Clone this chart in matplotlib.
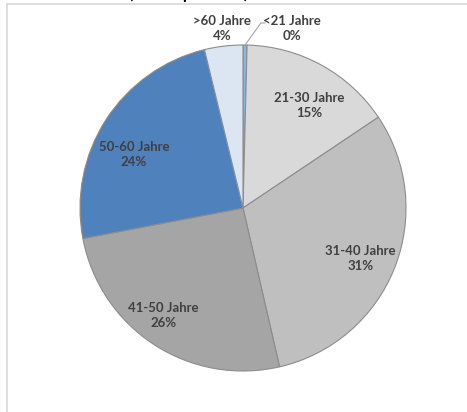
import matplotlib.pyplot as plt
from matplotlib.lines import Line2D
import numpy as np

plt.rcParams['font.family'] = ['Lato', 'DejaVu Sans']

# age groups, share of staff in percent (clockwise from 12 o'clock)
groups = ['<21 Jahre', '21-30 Jahre', '31-40 Jahre', '41-50 Jahre', '50-60 Jahre', '>60 Jahre']
shares = [0.4, 15.2, 30.8, 25.6, 24.2, 3.8]
colors = ['#8DB3E2', '#D9D9D9', '#BFBFBF', '#A5A5A5', '#4F81BD', '#DCE6F2']

# label centres, in pie radii relative to the centre
label_pos = [(0.30, 1.10), (0.405, 0.63), (0.72, -0.31),
             (-0.49, -0.66), (-0.67, 0.33), (-0.13, 1.10)]

W, H = 467, 412
cx, cy, r = 243, 204, 163  # pie centre (px from left / bottom) and radius

fig = plt.figure(figsize=(W / 100, H / 100), dpi=100)
ax = fig.add_axes([0, 0, 1, 1])

wedges, _ = ax.pie(shares, colors=colors, startangle=90, counterclock=False,
                   radius=1, wedgeprops=dict(edgecolor='#8C8C8C', linewidth=0.8))

# pie() sets its own limits, so put ours afterwards
ax.set_xlim(-cx / r, (W - cx) / r)
ax.set_ylim(-cy / r, (H - cy) / r)
ax.axis('off')

for name, val, (lx, ly) in zip(groups, shares, label_pos):
    ax.text(lx, ly, f'{name}\n{round(val):.0f}%', ha='center', va='center',
            fontsize=9.5, fontweight='bold', color='#404040', linespacing=1.3)

# leader line for the tiny first slice
w0 = wedges[0]
mid = np.deg2rad((w0.theta1 + w0.theta2) / 2)
px, py = np.cos(mid), np.sin(mid)
ax.plot([px, 0.11, 0.135], [py, 1.135, 1.135], color='#A6A6A6', lw=0.8)

# chart area frame (only top and left edge visible in the crop)
fig.add_artist(Line2D([7 / W, 1], [1 - 3.5 / H, 1 - 3.5 / H], color='#D9D9D9', lw=1.2))
fig.add_artist(Line2D([7 / W, 7 / W], [0, 1 - 3.5 / H], color='#D9D9D9', lw=1.2))

# title, mostly cut off above the picture
fig.text(25 / W, 1 + 1.5 / H, 'Altersstruktur (Stammpersonal)', ha='left', va='baseline',
         fontsize=11.5, fontweight='bold', color='#000000')

fig.savefig('out.png', dpi=100, facecolor='white')
